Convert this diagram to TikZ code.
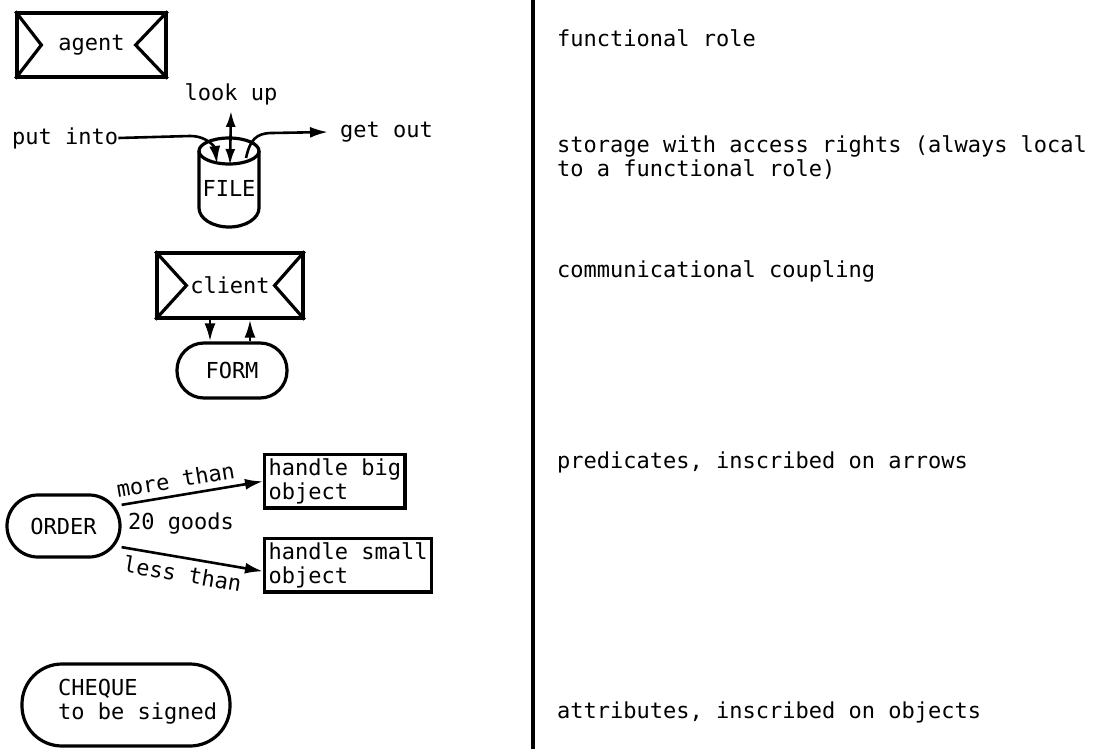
\documentclass[tikz,border=0pt]{standalone}
\usepackage{fontspec}
\newfontfamily\tw{DejaVu Sans Mono}
\usetikzlibrary{arrows.meta,calc}
\begin{document}
\begin{tikzpicture}[x=1pt,y=-1pt,
  every node/.style={font=\tw\fontsize{22}{24}\selectfont, inner sep=0pt},
  heavy/.style={line width=3.2pt},
  arr/.style={line width=2.6pt, -{Latex[length=18pt,width=11pt]}},
  darr/.style={line width=2.6pt, {Latex[length=16pt,width=10pt]}-{Latex[length=16pt,width=10pt]}},
  rolebox/.style={draw, heavy},
  objbox/.style={draw, heavy, align=left, inner sep=4pt, anchor=north west},
  stadium/.style={draw, heavy, align=left}
]
\useasboundingbox (0,0) rectangle (1097,749);

% divider between symbols and their meanings
\coordinate (divtop) at (533,0);
\coordinate (divbot) at (533,749);
\draw[line width=3.4pt] (divtop) -- (divbot);

% functional role
\node[rolebox, minimum width=149, minimum height=64] (agent) at (91.5,45) {agent};
\draw[heavy] (agent.north west) -- ($(agent.west)+(26,0)$) -- (agent.south west);
\draw[heavy] (agent.north east) -- ($(agent.east)+(-32,0)$) -- (agent.south east);

% storage
\coordinate (fc) at (229,151);
\draw[heavy] (fc) ellipse [x radius=30, y radius=13];
\draw[heavy] (199,151) -- (199,208) arc[start angle=180, end angle=0, x radius=30, y radius=19] -- (259,151);
\node (file) at (229,188) {FILE};
\coordinate (fin) at (217,164);
\coordinate (fmid) at (230,165);
\coordinate (fout) at (246,158);
\node (lookup) at (231,94) {look up};
\node[anchor=west] (putinto) at (12,138) {put into};
\node[anchor=west] (getout) at (340,132) {get out};
\draw[darr] ([yshift=-6pt]lookup.south) -- (fmid);
\draw[arr] (putinto.east) -- (190,136) .. controls (208,136) and (215,148) .. (fin);
\draw[arr] (fout) .. controls (250,140) and (256,133) .. (272,133) -- ([xshift=-12pt]getout.west);

% communicational coupling
\node[rolebox, minimum width=146, minimum height=65] (client) at (230,285.5) {client};
\draw[heavy] (client.north west) -- ($(client.west)+(31,0)$) -- (client.south west);
\draw[heavy] (client.north east) -- ($(client.east)+(-30,0)$) -- (client.south east);
\node[stadium, rounded corners=27pt, minimum width=110, minimum height=55] (form) at (232,370.5) {FORM};
\draw[arr] ([xshift=-20pt]client.south) -- ([xshift=-22pt]form.north);
\draw[arr] ([xshift=18pt]form.north) -- ([xshift=20pt]client.south);

% predicates on arrows
\node[stadium, rounded corners=31pt, minimum width=113, minimum height=62] (order) at (63.5,526) {ORDER};
\node[objbox] (hbig) at (263,453) {handle big\\object};
\node[objbox] (hsmall) at (263,537) {handle small\\object};
\draw[arr] (order.20) -- node[pos=0.4, above=6pt, sloped] {more than} (hbig.west);
\draw[arr] (order.-20) -- node[pos=0.45, below=6pt, sloped] {less than} ([yshift=-6pt]hsmall.west);
\node (goods) at (181,523) {20 goods};

% attributes on objects
\node[stadium, rounded corners=40pt, minimum width=208, minimum height=82] (cheque) at (126,705) {};
\node[anchor=west, align=left] (chequetext) at (58,702) {CHEQUE\\to be signed};

% meanings
\node[anchor=west] (m1) at (557,38) {functional role};
\node[anchor=west, align=left] (m2) at (557,158) {storage with access rights (always local\\to a functional role)};
\node[anchor=west] (m3) at (557,271) {communicational coupling};
\node[anchor=west] (m4) at (557,462) {predicates, inscribed on arrows};
\node[anchor=west] (m5) at (557,712) {attributes, inscribed on objects};
\end{tikzpicture}
\end{document}
